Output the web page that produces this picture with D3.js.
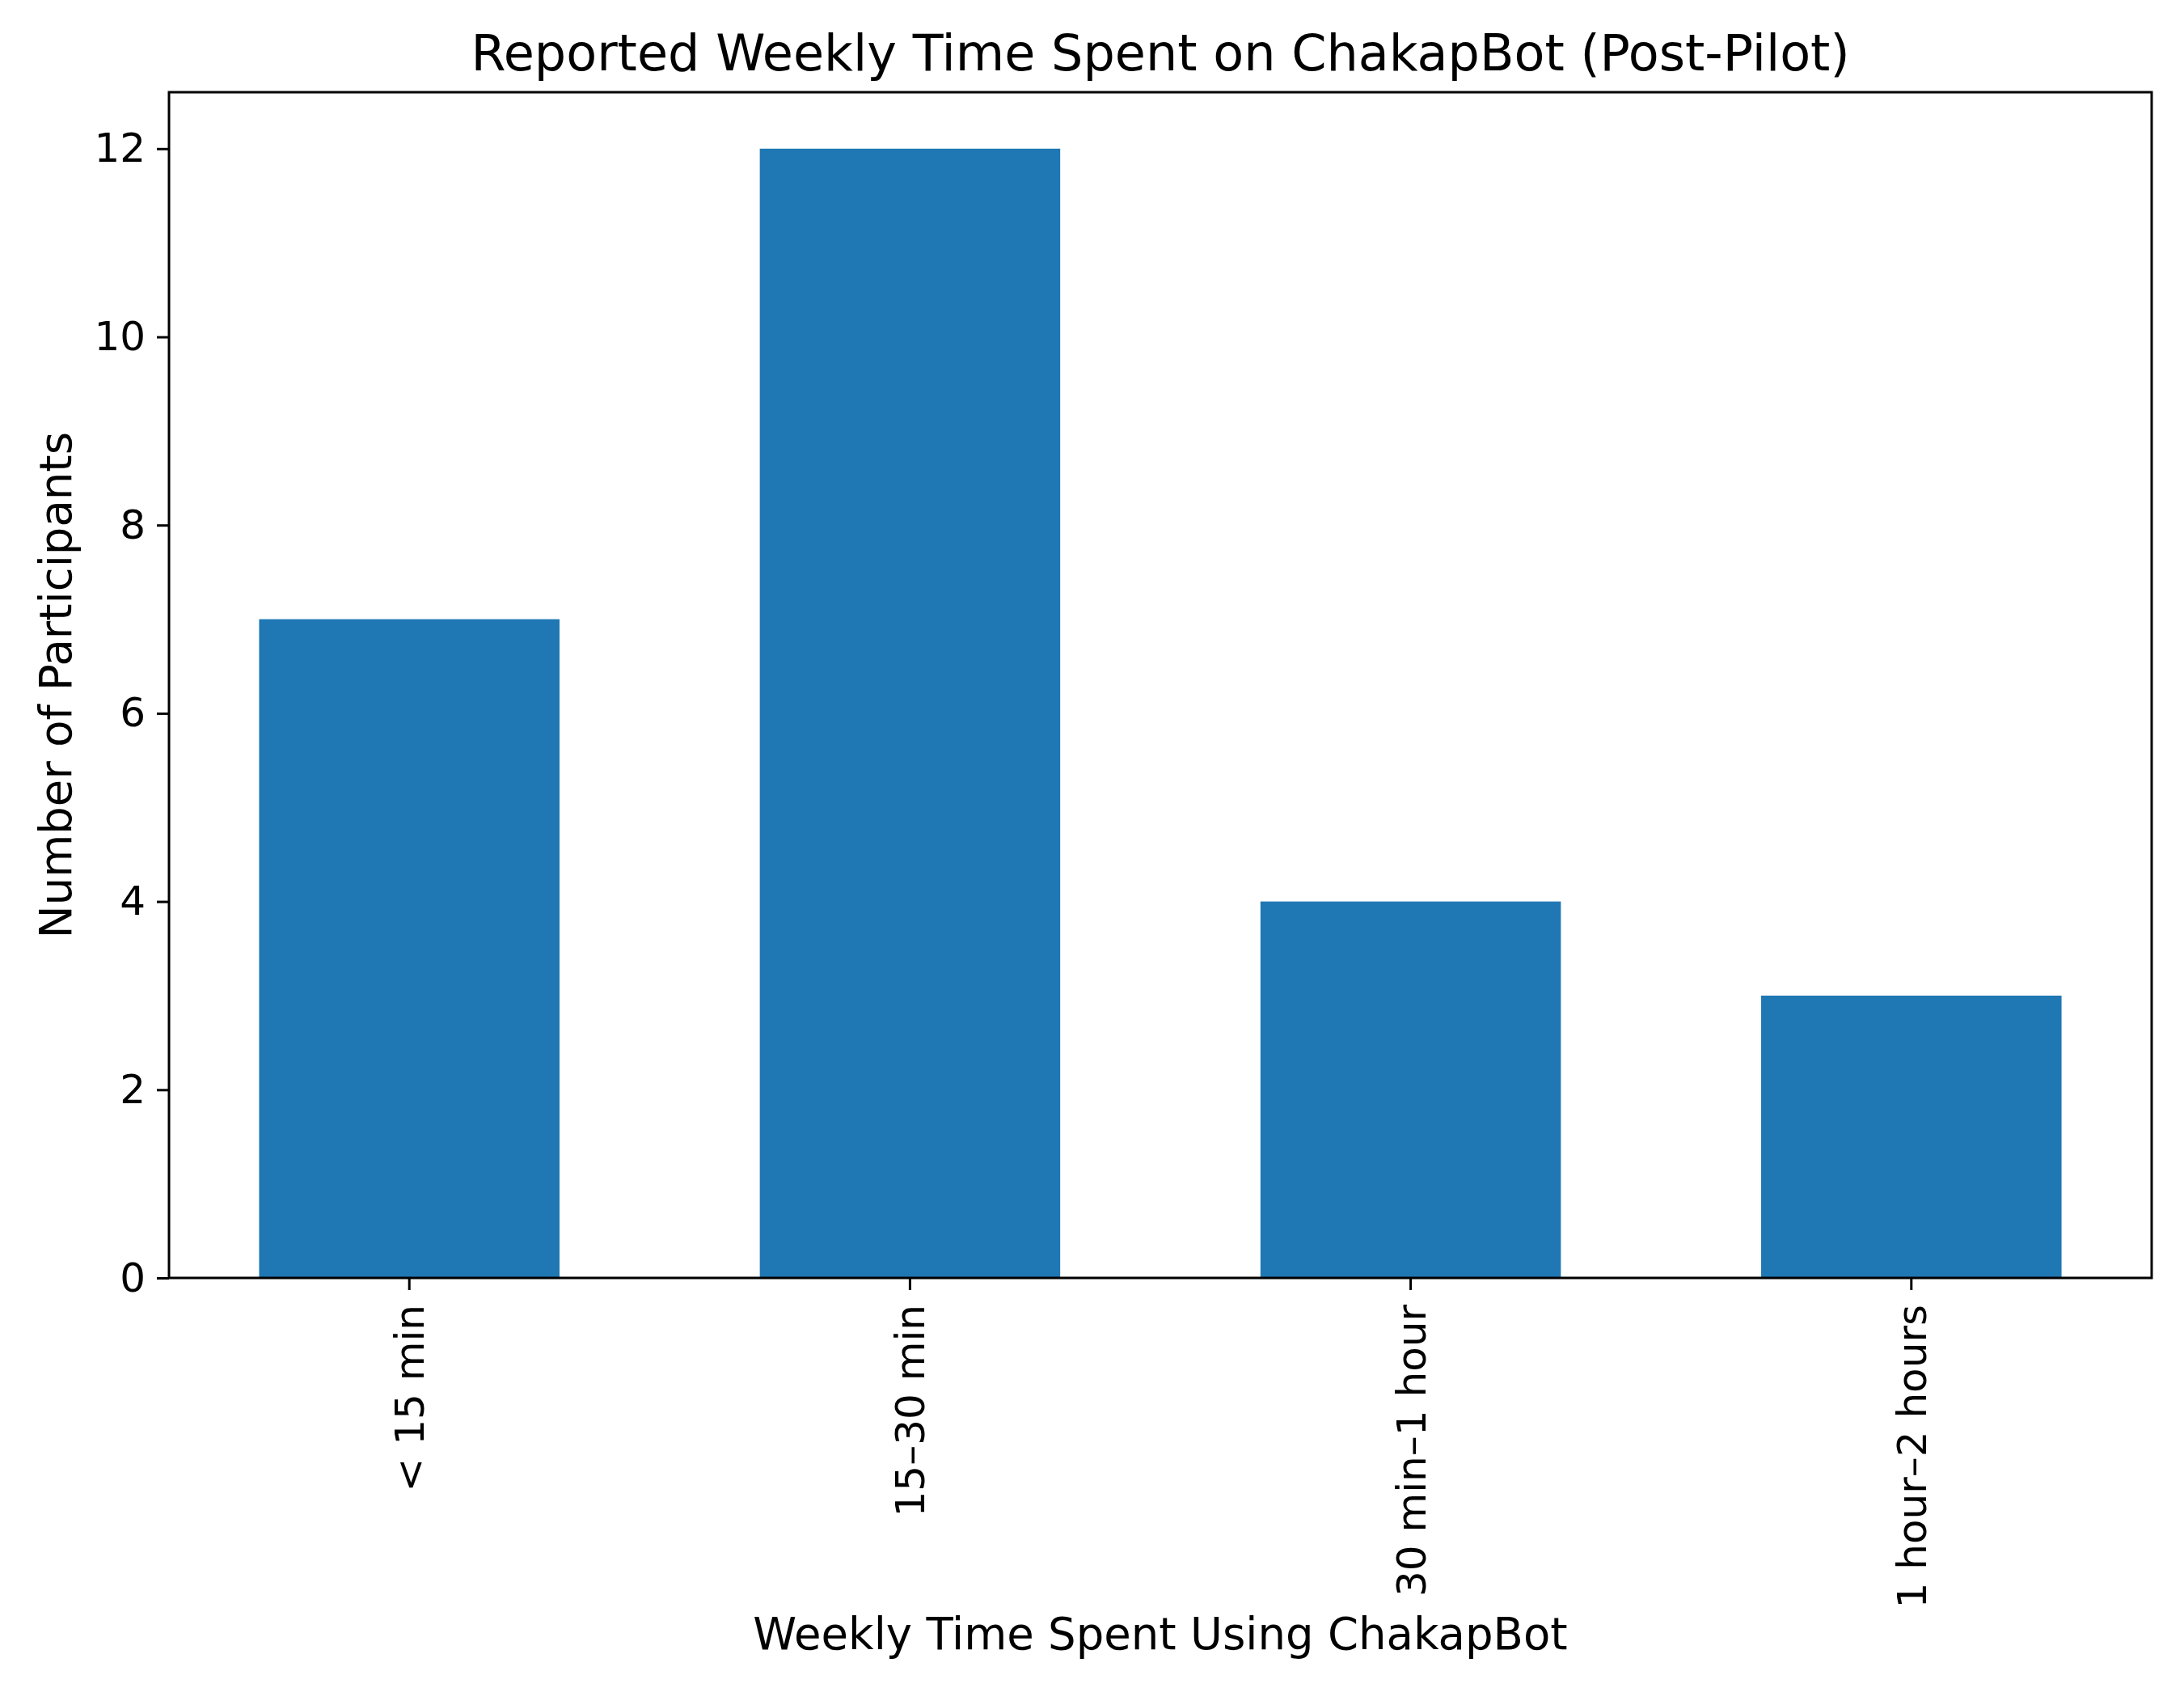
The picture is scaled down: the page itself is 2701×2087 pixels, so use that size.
<!DOCTYPE html>
<html>
<head>
<meta charset="utf-8">
<script src="https://cdn.jsdelivr.net/npm/d3@7"></script>
<style>
  html, body { margin: 0; padding: 0; background: #fff; }
  svg { display: block; font-family: "DejaVu Sans", sans-serif; }
</style>
</head>
<body>
<script>
const categories = ["< 15 min", "15–30 min", "30 min–1 hour", "1 hour–2 hours"];
const participants = [7, 12, 4, 3];
const yTicks = [0, 2, 4, 6, 8, 10, 12];

const title = "Reported Weekly Time Spent on ChakapBot (Post-Pilot)";
const xTitle = "Weekly Time Spent Using ChakapBot";
const yTitle = "Number of Participants";

const width = 2701;
const height = 2087;
const marginTop = 114;
const marginRight = 40;
const marginBottom = 507;
const marginLeft = 209;

const svg = d3.select("body")
  .append("svg")
    .attr("width", width)
    .attr("height", height)
    .attr("viewBox", [0, 0, width, height]);

// matplotlib-ish: bar width 0.6, x margins 5%
const x = d3.scaleBand()
    .domain(categories)
    .range([marginLeft, width - marginRight])
    .paddingInner(0.4)
    .paddingOuter(0.18);

const y = d3.scaleLinear()
    .domain([0, 12.6])
    .range([height - marginBottom, marginTop]);

// bars
svg.append("g")
    .attr("fill", "#1f77b4")
  .selectAll("rect")
  .data(categories)
  .join("rect")
    .attr("x", d => x(d))
    .attr("y", (d, i) => y(participants[i]))
    .attr("width", x.bandwidth())
    .attr("height", (d, i) => y(0) - y(participants[i]));

// X axis
svg.append("g")
    .attr("transform", `translate(0,${height - marginBottom})`)
    .call(d3.axisBottom(x).tickSize(15).tickPadding(18).tickSizeOuter(0))
    .call(g => g.select(".domain").remove())
    .call(g => g.selectAll(".tick line").attr("stroke", "#000").attr("stroke-width", 3))
    .call(g => g.selectAll(".tick text")
        .attr("font-size", 50)
        .attr("font-family", "DejaVu Sans")
        .attr("fill", "#000")
        .attr("text-anchor", "end")
        .attr("transform", "rotate(-90)")
        .attr("x", -33)
        .attr("y", 0)
        .attr("dy", "0.36em"));

// Y axis
svg.append("g")
    .attr("transform", `translate(${marginLeft},0)`)
    .call(d3.axisLeft(y).tickValues(yTicks).tickFormat(d3.format("d")).tickSize(15).tickPadding(14))
    .call(g => g.select(".domain").remove())
    .call(g => g.selectAll(".tick line").attr("stroke", "#000").attr("stroke-width", 3))
    .call(g => g.selectAll(".tick text")
        .attr("font-size", 50)
        .attr("font-family", "DejaVu Sans")
        .attr("fill", "#000"));

// frame
svg.append("rect")
    .attr("x", marginLeft)
    .attr("y", marginTop)
    .attr("width", width - marginRight - marginLeft)
    .attr("height", height - marginBottom - marginTop)
    .attr("fill", "none")
    .attr("stroke", "#000")
    .attr("stroke-width", 3);

// title
svg.append("text")
    .attr("x", (marginLeft + width - marginRight) / 2)
    .attr("y", 87)
    .attr("text-anchor", "middle")
    .attr("font-size", 62)
    .text(title);

// X-axis label
svg.append("text")
    .attr("x", (marginLeft + width - marginRight) / 2)
    .attr("y", 2039)
    .attr("text-anchor", "middle")
    .attr("font-size", 54.5)
    .text(xTitle);

// Y-axis label
svg.append("text")
    .attr("transform", `translate(88,${(marginTop + height - marginBottom) / 2}) rotate(-90)`)
    .attr("text-anchor", "middle")
    .attr("font-size", 54.5)
    .text(yTitle);
</script>
</body>
</html>
